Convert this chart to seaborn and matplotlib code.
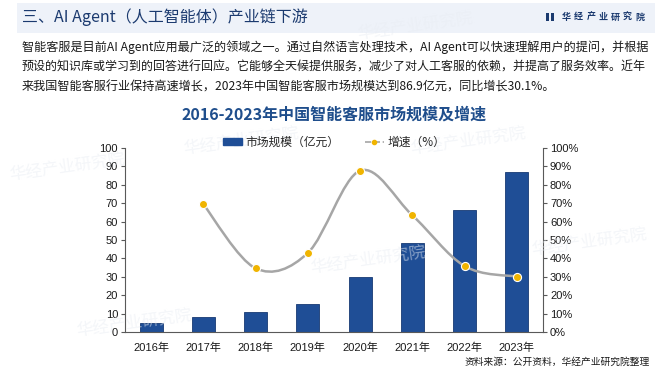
"""2016-2023 China intelligent customer service market size and growth."""
import matplotlib
matplotlib.use("Agg")
import matplotlib.pyplot as plt
import numpy as np
import seaborn as sns
from matplotlib.lines import Line2D
from matplotlib.patches import Patch, PathPatch, Rectangle
from matplotlib.path import Path

# data
years = ["2016年", "2017年", "2018年", "2019年", "2020年", "2021年", "2022年", "2023年"]
market_size = [4.9, 8.2, 10.8, 15.4, 29.9, 48.4, 66.4, 86.9]   # 亿元
growth = [69.4, 34.6, 43.0, 87.7, 63.4, 35.8, 30.1]             # %, 2017 onwards

header = "三、AI Agent（人工智能体）产业链下游"
paragraph = [
    "智能客服是目前AI Agent应用最广泛的领域之一。通过自然语言处理技术，AI Agent可以快速理解用户的提问，并根据",
    "预设的知识库或学习到的回答进行回应。它能够全天候提供服务，减少了对人工客服的依赖，并提高了服务效率。近年",
    "来我国智能客服行业保持高速增长，2023年中国智能客服市场规模达到86.9亿元，同比增长30.1%。",
]
chart_title = "2016-2023年中国智能客服市场规模及增速"
legend_labels = ["市场规模（亿元）", "增速（%）"]
source = "资料来源：公开资料，华经产业研究院整理"
brand = "华经产业研究院"

BAR = "#1f4e96"
NAVY = "#1b3a6f"
GOLD = "#f0b400"
GREY = "#a6a6a6"
AXIS = "#595959"

sns.set_theme(style="white")
plt.rcParams["font.family"] = ["Liberation Sans", "Noto Sans CJK SC", "DejaVu Sans"]
CJK = ["Noto Sans CJK SC", "DejaVu Sans"]

fig = plt.figure(figsize=(6.69, 3.72), dpi=100)
fig.patch.set_facecolor("white")
renderer = fig.canvas.get_renderer()


def fit_text(t, width_px):
    """Shrink/grow a text so it spans width_px pixels."""
    w = t.get_window_extent(renderer).width
    t.set_fontsize(t.get_fontsize() * width_px / w)
    return t


# header band
fig.add_artist(Rectangle((17 / 669, 1 - 33 / 372), 638 / 669, 30 / 372,
                         transform=fig.transFigure, facecolor="#eef2f9",
                         edgecolor="none", zorder=0))
fig.text(22 / 669, 1 - 17 / 372, header, fontsize=11.5, color=NAVY,
         family=CJK, va="center", ha="left")
fig.add_artist(Rectangle((546 / 669, 1 - 21 / 372), 2.5 / 669, 8 / 372,
                         transform=fig.transFigure, facecolor=NAVY, edgecolor="none"))
fig.add_artist(Rectangle((551 / 669, 1 - 21 / 372), 2.5 / 669, 8 / 372,
                         transform=fig.transFigure, facecolor=NAVY, edgecolor="none"))
for k, ch in enumerate(brand):
    fig.text((562 + 12.2 * k) / 669, 1 - 17 / 372, ch, fontsize=6.5, color=NAVY,
             family=CJK, va="center", ha="left", fontweight="bold")

# watermarks
for wx, wy in [(0.10, 0.55), (0.36, 0.62), (0.70, 0.62), (0.20, 0.13),
               (0.55, 0.30), (0.88, 0.35), (0.62, 0.93)]:
    fig.text(wx, wy, "华经产业研究院", fontsize=12, color="#e9edf3", alpha=0.5,
             family=CJK, rotation=8, ha="center", va="center", zorder=0)

lines = []
for i, line in enumerate(paragraph):
    lines.append(fig.text(22 / 669, 1 - (47 + 20 * i) / 372, line, fontsize=9,
                          color="#1a1a1a", family=CJK, va="center", ha="left"))
fit_text(lines[0], 625)
fit_text(lines[1], 625)
lines[2].set_fontsize(lines[0].get_fontsize())

fig.text(334 / 669, 1 - 115 / 372, chart_title, fontsize=11.5, color="#1f4e8c",
         family=CJK, fontweight="bold", ha="center", va="center")

fig.text(650 / 669, 1 - 362 / 372, source, fontsize=7, color="#1a1a1a",
         family=CJK, ha="right", va="center")

# chart
ax = fig.add_axes([125 / 669, 40 / 372, 418 / 669, 184 / 372])
ax.set_facecolor("none")
x = np.arange(len(years))
sns.barplot(x=x, y=market_size, color=BAR, width=0.44, edgecolor="#173a73",
            linewidth=0.6, saturation=1, ax=ax, zorder=2)
ax.set_xlim(-0.5, len(years) - 0.5)
ax.set_ylim(0, 100)
ax.set_yticks(np.arange(0, 101, 10))
ax.set_xticks(x)
ax.set_xticklabels(years)
ax.set_xticks(np.arange(-0.5, len(years)), minor=True)
ax.tick_params(axis="x", which="major", length=0, labelsize=8, pad=8, colors="#1a1a1a")
ax.tick_params(axis="x", which="minor", length=3, width=0.8, color=AXIS, direction="out")
ax.tick_params(axis="y", length=3, width=0.8, color=AXIS, labelsize=8,
               labelcolor="#1a1a1a", direction="out", left=True, pad=2)
ax.set_xlabel("")
ax.set_ylabel("")
for side in ["top", "right"]:
    ax.spines[side].set_visible(False)
for side in ["left", "bottom"]:
    ax.spines[side].set_color(AXIS)
    ax.spines[side].set_linewidth(0.8)

ax2 = ax.twinx()
ax2.set_ylim(0, 100)
ax2.set_yticks(np.arange(0, 101, 10))
ax2.set_yticklabels([f"{v}%" for v in range(0, 101, 10)])
ax2.tick_params(axis="y", length=3, width=0.8, color=AXIS, labelsize=8,
                labelcolor="#1a1a1a", direction="out", right=True, pad=2)
for side in ["top", "left", "bottom"]:
    ax2.spines[side].set_visible(False)
ax2.spines["right"].set_color(AXIS)
ax2.spines["right"].set_linewidth(0.8)

# smoothed growth line (Catmull-Rom segments as cubic Bezier)
gx = x[1:].astype(float)
gy = np.array(growth, dtype=float)
px = np.concatenate([[gx[0]], gx, [gx[-1]]])
py = np.concatenate([[gy[0]], gy, [gy[-1]]])
verts = [(gx[0], gy[0])]
codes = [Path.MOVETO]
for i in range(1, len(px) - 2):
    c1 = (px[i] + (px[i + 1] - px[i - 1]) / 6, py[i] + (py[i + 1] - py[i - 1]) / 6)
    c2 = (px[i + 1] - (px[i + 2] - px[i]) / 6, py[i + 1] - (py[i + 2] - py[i]) / 6)
    verts += [c1, c2, (px[i + 1], py[i + 1])]
    codes += [Path.CURVE4] * 3
ax2.add_patch(PathPatch(Path(verts, codes), facecolor="none", edgecolor=GREY,
                        linewidth=1.8, zorder=3))
sns.scatterplot(x=gx, y=gy, color=GOLD, edgecolor="white", linewidth=0.8,
                s=34, ax=ax2, zorder=4)

handles = [
    Patch(facecolor=BAR, edgecolor=BAR),
    Line2D([0], [0], color=GREY, linestyle="--", linewidth=1.2, marker="o",
           markersize=3, markerfacecolor=GOLD, markeredgecolor=GOLD),
]
fig.legend(handles, legend_labels, loc="center", ncol=2, frameon=False,
           bbox_to_anchor=(334 / 669, 1 - 142 / 372),
           handlelength=1.6, handleheight=0.6, handletextpad=0.3,
           columnspacing=2.2, prop={"family": CJK, "size": 8.5})

fig.savefig("out.png", dpi=100, facecolor="white")
